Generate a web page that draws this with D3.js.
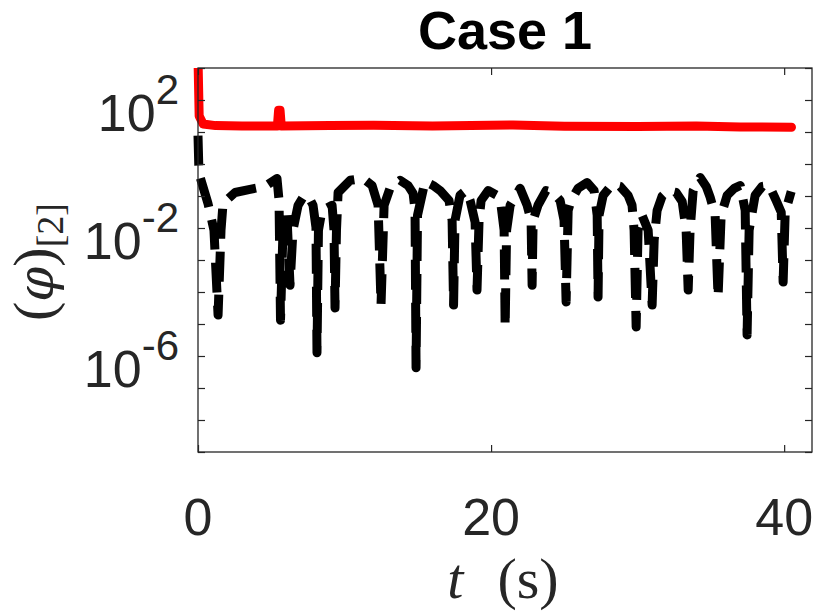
<!DOCTYPE html>
<html>
<head>
<meta charset="utf-8">
<script src="https://cdn.jsdelivr.net/npm/d3@7"></script>
<style>
  html, body { margin: 0; padding: 0; background: #fff; }
  svg { display: block; }
</style>
</head>
<body>
<svg id="chart" width="816" height="612"></svg>
<script>
// ---------------- data ----------------
const xTicks = [0, 20, 40];
const yLabelExps = [2, -2, -6];          // labelled decades
const yTickExps = [3, 2, 1, 0, -1, -2, -3, -4, -5, -6, -7, -8, -9];
const titleText = "Case 1";

// red series: [t (s), log10 value]
const redPts = [
  [0, 3.3], [0.08, 1.5], [0.35, 1.25], [1.2, 1.2], [3, 1.19], [5.42, 1.19],
  [5.5, 1.68], [5.6, 1.68], [5.68, 1.19], [9, 1.2], [12, 1.21], [16, 1.19],
  [21.5, 1.22], [25, 1.18], [30, 1.17], [34, 1.19], [37, 1.16], [40.5, 1.15]
];

// black dash-dot series: [t (s), log10 value]
const blackPts = [
  [0, 0.89], [0.05, 0.0], [0.07, -0.30], [0.68, -1.23], [1.09, -2.07], [1.37, -4.72],
  [1.57, -2.07], [1.71, -1.23], [2.53, -0.89], [3.55, -0.79], [4.57, -0.70], [5.39, -0.45],
  [5.53, -1.14], [5.63, -4.88], [5.8, -2.07], [6.07, -1.6], [6.28, -3.79], [6.48, -2.07],
  [6.83, -1.29], [7.17, -1.04], [7.5, -0.98], [7.85, -1.29], [8.05, -1.98], [8.12, -5.9],
  [8.22, -2.07], [8.46, -1.45], [9.15, -1.29], [9.28, -2.07], [9.35, -4.5], [9.45, -2.07],
  [9.56, -0.89], [10.38, -0.51], [11.26, -0.45], [11.88, -0.67], [12.29, -1.29], [12.49, -4.41],
  [12.7, -1.29], [13.1, -0.76], [13.79, -0.51], [14.33, -0.67], [14.68, -0.92], [14.81, -1.45],
  [14.88, -6.37], [14.98, -1.6], [15.49, -0.55], [16.04, -0.67], [16.52, -0.83], [17.13, -1.14],
  [17.34, -1.76], [17.44, -4.41], [17.54, -1.76], [17.88, -0.98], [18.29, -0.83], [18.57, -1.14],
  [18.91, -1.82], [19.04, -3.94], [19.18, -1.76], [19.32, -1.14], [19.8, -0.83], [20.41, -0.98],
  [20.68, -1.29], [20.89, -2.07], [20.96, -5.09], [21.06, -2.07], [21.3, -1.29], [21.98, -0.76],
  [22.46, -1.29], [22.73, -1.76], [22.8, -3.79], [22.87, -1.76], [23.2, -1.29], [23.75, -0.83],
  [24.23, -0.89], [24.71, -1.14], [24.98, -1.76], [25.12, -4.31], [25.26, -1.45], [25.46, -1.14],
  [25.94, -0.76], [26.55, -0.58], [27.03, -0.83], [27.24, -1.6], [27.3, -4.16], [27.37, -1.6],
  [27.65, -0.98], [28.26, -0.64], [28.81, -0.70], [29.35, -0.98], [29.62, -1.29], [29.76, -2.07],
  [29.9, -5.09], [30.03, -2.07], [30.3, -1.6], [30.72, -2.07], [30.99, -4.41], [31.13, -2.38],
  [31.33, -1.45], [31.67, -1.01], [32.08, -0.83], [32.63, -0.89], [33.04, -1.17], [33.31, -2.07],
  [33.45, -3.94], [33.58, -2.07], [33.79, -0.83], [34.27, -0.42], [34.68, -0.70], [34.95, -1.04],
  [35.29, -1.6], [35.49, -4.16], [35.7, -1.6], [36.11, -0.98], [36.59, -0.76], [37.0, -0.67],
  [37.34, -1.45], [37.47, -5.34], [37.61, -2.07], [38.02, -0.98], [38.5, -0.70], [38.98, -0.67],
  [39.45, -1.14], [39.8, -1.51], [39.93, -3.69], [40.07, -1.51], [40.48, -0.86]
];

// ---------------- layout ----------------
const L = 198, R = 812, T = 68, B = 452;
const axisColor = "#262626";
const svg = d3.select("#chart");

const x = d3.scaleLinear().domain([0, 41.9]).range([L, R]);
const y = d3.scaleLog().domain([1e-9, 1e3]).range([B, T]);

svg.append("defs").append("clipPath").attr("id", "clip")
  .append("rect").attr("x", L - 10).attr("y", T).attr("width", R - L + 20).attr("height", B - T);

// data lines
const line = d3.line()
  .x(d => x(d[0]))
  .y(d => y(Math.pow(10, d[1])));

const plot = svg.append("g").attr("clip-path", "url(#clip)");

plot.append("path")
  .datum(blackPts)
  .attr("d", line)
  .attr("fill", "none")
  .attr("stroke", "#000")
  .attr("stroke-width", 9)
  .attr("stroke-linejoin", "round")
  .attr("stroke-linecap", "butt")
  .attr("stroke-dasharray", "30,13");

plot.append("path")
  .datum(redPts)
  .attr("d", line)
  .attr("fill", "none")
  .attr("stroke", "#ff0000")
  .attr("stroke-width", 9)
  .attr("stroke-linejoin", "round")
  .attr("stroke-linecap", "round");

// axes (ticks inward on all four sides)
const tickLen = 7;
const yTickVals = yTickExps.map(e => Math.pow(10, e));

function styleAxis(g) {
  g.select(".domain").remove();
  g.selectAll(".tick line").attr("stroke", axisColor).attr("stroke-width", 1.2);
  g.selectAll(".tick text").remove();
}

svg.append("g").attr("transform", `translate(0,${B})`)
  .call(d3.axisBottom(x).tickValues(xTicks).tickSize(-tickLen).tickSizeOuter(0))
  .call(styleAxis);
svg.append("g").attr("transform", `translate(0,${T})`)
  .call(d3.axisTop(x).tickValues(xTicks).tickSize(-tickLen).tickSizeOuter(0))
  .call(styleAxis);
svg.append("g").attr("transform", `translate(${L},0)`)
  .call(d3.axisLeft(y).tickValues(yTickVals).tickSize(-tickLen).tickSizeOuter(0))
  .call(styleAxis);
svg.append("g").attr("transform", `translate(${R},0)`)
  .call(d3.axisRight(y).tickValues(yTickVals).tickSize(-tickLen).tickSizeOuter(0))
  .call(styleAxis);

// box
svg.append("rect")
  .attr("x", L).attr("y", T).attr("width", R - L).attr("height", B - T)
  .attr("fill", "none").attr("stroke", axisColor).attr("stroke-width", 1.3);

// x tick labels
svg.append("g").selectAll("text")
  .data(xTicks).join("text")
  .attr("x", d => x(d))
  .attr("y", 535)
  .attr("text-anchor", "middle")
  .attr("font-family", "'Liberation Sans', Arial, Helvetica, sans-serif")
  .attr("font-size", 52)
  .attr("fill", axisColor)
  .text(d => d);

// y tick labels 10^k
const yl = svg.append("g").selectAll("text")
  .data(yLabelExps).join("text")
  .attr("x", 179)
  .attr("y", d => y(Math.pow(10, d)) + 31)
  .attr("text-anchor", "end")
  .attr("font-family", "'Liberation Sans', Arial, Helvetica, sans-serif")
  .attr("font-size", 52)
  .attr("fill", axisColor);
yl.append("tspan").text("10");
yl.append("tspan").attr("dy", -27).attr("font-size", 42).text(d => d);

// title
svg.append("text")
  .attr("x", (L + R) / 2)
  .attr("y", 49)
  .attr("text-anchor", "middle")
  .attr("font-family", "'Liberation Sans', Arial, Helvetica, sans-serif")
  .attr("font-weight", "bold")
  .attr("font-size", 54)
  .attr("fill", "#000")
  .text(titleText);

// x label: t  (s)
const xl = svg.append("text")
  .attr("x", 503)
  .attr("y", 598)
  .attr("text-anchor", "middle")
  .attr("font-family", "'Liberation Serif', 'DejaVu Serif', serif")
  .attr("font-size", 58)
  .attr("fill", axisColor);
xl.append("tspan").attr("font-style", "italic").text("t");
xl.append("tspan").attr("dx", 34).text("(s)");

// y label: (φ)_[2]
const ylab = svg.append("text")
  .attr("transform", "translate(53,262) rotate(-90)")
  .attr("text-anchor", "middle")
  .attr("font-family", "'Liberation Serif', 'DejaVu Serif', serif")
  .attr("font-size", 58)
  .attr("fill", axisColor);
ylab.append("tspan").text("(");
ylab.append("tspan").attr("font-family", "'DejaVu Serif', serif").attr("font-style", "italic").attr("font-size", 50).text("φ");
ylab.append("tspan").text(")");
ylab.append("tspan").attr("dy", 10).attr("font-size", 38).text("[2]");
</script>
</body>
</html>
